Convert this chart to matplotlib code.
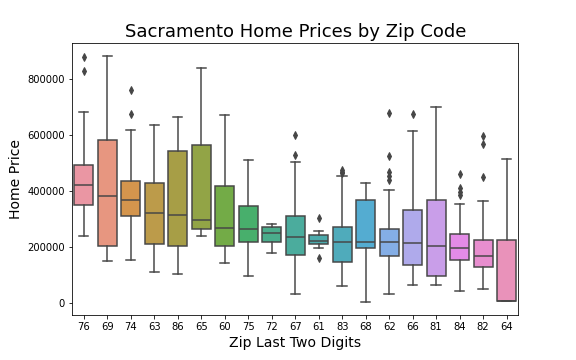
import numpy as np
import matplotlib
matplotlib.use("Agg")
import matplotlib.pyplot as plt
import seaborn as sns
import colorsys

# zip codes (last two digits) in plotted order
zips = ["76", "69", "74", "63", "86", "65", "60", "75", "72", "67",
        "61", "83", "68", "62", "66", "81", "84", "82", "64"]

# box statistics
whislo = [238000, 149000, 152000, 108000, 102000, 238000, 140000, 97000, 176000, 30000,
          194000, 58000, 2000, 30000, 62000, 62000, 40000, 49000, 4897]
q1 = [348000, 201000, 308000, 209000, 204000, 265000, 204000, 218000, 216000, 169000,
      210000, 147000, 194000, 165000, 133000, 94000, 151000, 126000, 4897]
med = [420000, 380000, 368000, 320000, 315000, 294000, 266000, 263000, 248000, 234000,
       222000, 218000, 218000, 218000, 213000, 204000, 195000, 166000, 4897]
q3 = [493000, 580000, 436000, 426000, 543000, 565000, 416000, 347000, 269000, 308000,
      241000, 269000, 368000, 263000, 330000, 366000, 245000, 223000, 223000]
whishi = [680000, 883000, 616000, 636000, 662000, 840000, 669000, 511000, 282000, 502000,
          256000, 452000, 427000, 402000, 612000, 698000, 353000, 363000, 512000]
fliers = [[877000, 826000], [], [761000, 673000], [], [], [], [], [], [], [599000, 528000],
          [302000, 159000], [475000, 468000, 462000], [], [678000, 524000, 466000, 452000, 437000],
          [675000], [], [460000, 409000, 395000, 384000], [597000, 568000, 449000], []]

stats = []
for i in range(len(zips)):
    stats.append(dict(whislo=whislo[i], q1=q1[i], med=med[i], q3=q3[i],
                      whishi=whishi[i], fliers=fliers[i], label=zips[i]))

# old seaborn: husl with l=.7, then saturation .75
pal = sns.husl_palette(len(zips), l=0.7)
pal = [sns.desaturate(c, 0.75) for c in pal]
lum = min(colorsys.rgb_to_hls(*c)[1] for c in pal) * 0.6
gray = (lum, lum, lum)

fig = plt.figure(figsize=(8, 5), dpi=72)
ax = fig.add_axes([0.125, 0.125, 0.775, 0.755])

pos = np.arange(len(zips))
bp = ax.bxp(stats, positions=pos, widths=0.8, patch_artist=True,
            boxprops=dict(edgecolor=gray, linewidth=1.5),
            whiskerprops=dict(color=gray, linewidth=1.5),
            capprops=dict(color=gray, linewidth=1.5),
            medianprops=dict(color=gray, linewidth=1.5),
            flierprops=dict(marker="d", markerfacecolor=gray, markeredgecolor=gray,
                            markersize=5, linestyle="none"))
for patch, c in zip(bp["boxes"], pal):
    patch.set_facecolor(c)
for cap in bp["caps"]:
    x = cap.get_xdata()
    m = x.mean()
    cap.set_xdata([m - 0.2, m + 0.2])

ax.set_xlim(-0.5, len(zips) - 0.5)
ax.set_ylim(-44000, 927000)
ax.set_xticks(pos)
ax.set_xticklabels(zips)
ax.set_title("Sacramento Home Prices by Zip Code", fontsize=18)
ax.set_xlabel("Zip Last Two Digits", fontsize=14)
ax.set_ylabel("Home Price", fontsize=14)

fig.savefig("out.png", dpi=72)
